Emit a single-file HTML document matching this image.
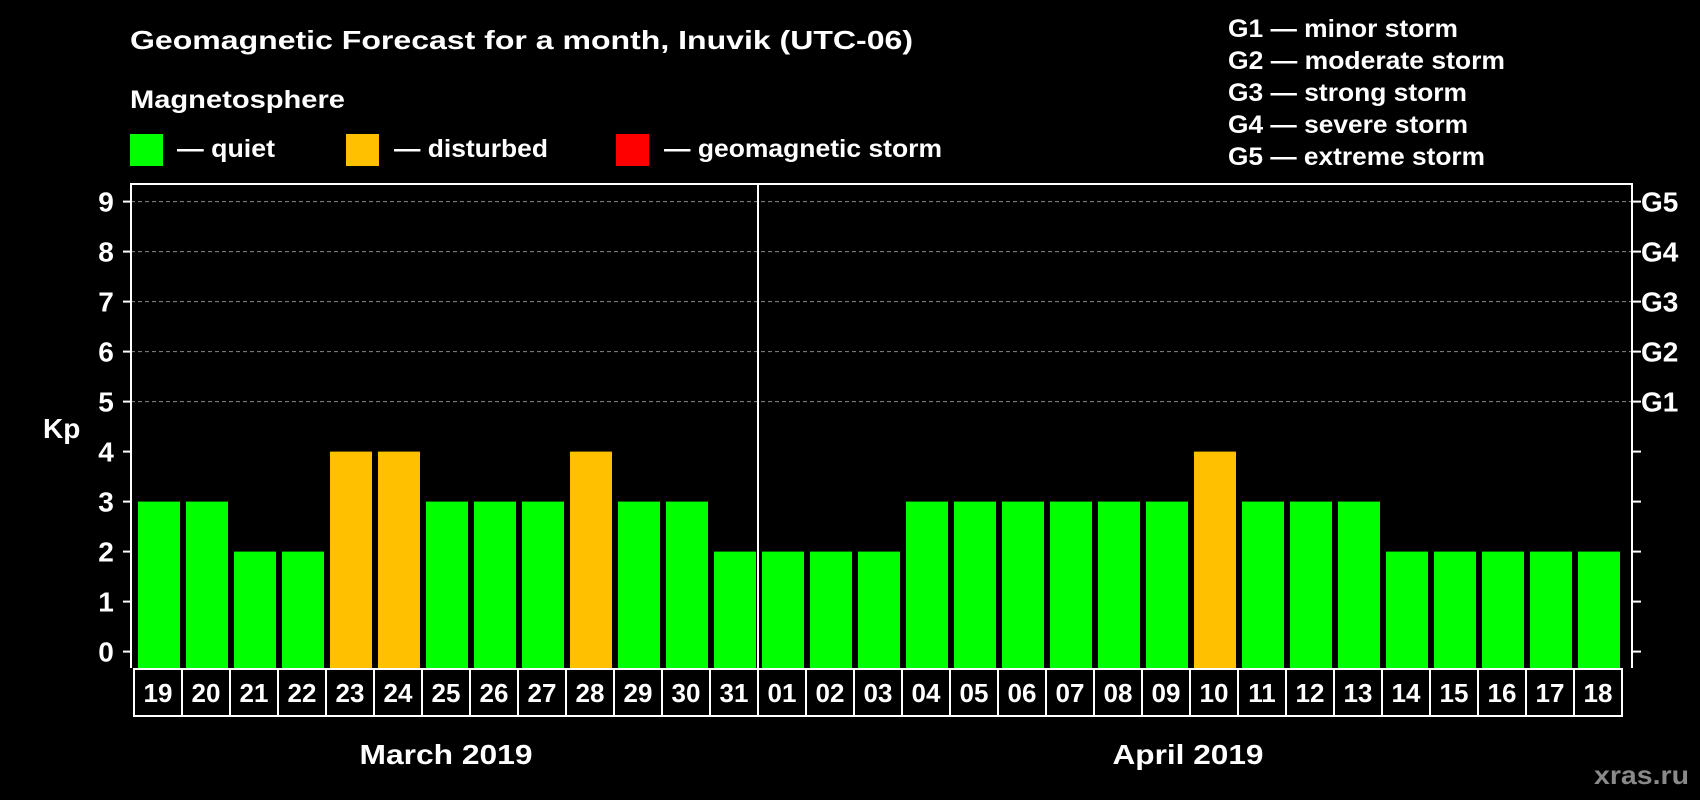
<!DOCTYPE html>
<html><head><meta charset="utf-8">
<style>
html,body{margin:0;padding:0;background:#000;}
svg{display:block;}
text{font-family:"Liberation Sans",Arial,sans-serif;font-weight:bold;fill:#fff;}
</style></head>
<body>
<svg id="chart" width="1700" height="800" viewBox="0 0 1700 800" xmlns="http://www.w3.org/2000/svg">
<rect x="0" y="0" width="1700" height="800" fill="#000"/>
<text x="130" y="49" font-size="26" textLength="783" lengthAdjust="spacingAndGlyphs">Geomagnetic Forecast for a month, Inuvik (UTC-06)</text>
<text x="130" y="108" font-size="25" textLength="215" lengthAdjust="spacingAndGlyphs">Magnetosphere</text>
<g>
<rect x="130" y="134" width="33" height="32" fill="#00ff00"/>
<text x="177" y="157" font-size="25" textLength="98" lengthAdjust="spacingAndGlyphs">— quiet</text>
</g>
<g>
<rect x="346" y="134" width="33" height="32" fill="#ffc000"/>
<text x="394" y="157" font-size="25" textLength="154" lengthAdjust="spacingAndGlyphs">— disturbed</text>
</g>
<g>
<rect x="616" y="134" width="33" height="32" fill="#ff0000"/>
<text x="664" y="157" font-size="25" textLength="278" lengthAdjust="spacingAndGlyphs">— geomagnetic storm</text>
</g>
<g>
<text x="1228" y="37" font-size="25" textLength="230" lengthAdjust="spacingAndGlyphs">G1 — minor storm</text>
<text x="1228" y="69" font-size="25" textLength="277" lengthAdjust="spacingAndGlyphs">G2 — moderate storm</text>
<text x="1228" y="101" font-size="25" textLength="239" lengthAdjust="spacingAndGlyphs">G3 — strong storm</text>
<text x="1228" y="133" font-size="25" textLength="240" lengthAdjust="spacingAndGlyphs">G4 — severe storm</text>
<text x="1228" y="165" font-size="25" textLength="257" lengthAdjust="spacingAndGlyphs">G5 — extreme storm</text>
</g>
<text x="43" y="438" font-size="28">Kp</text>
<g id="grid"></g>
<g id="bars"></g>
<g id="axes"></g>
<text x="446" y="764" font-size="28" text-anchor="middle" textLength="173" lengthAdjust="spacingAndGlyphs">March 2019</text>
<text x="1188" y="764" font-size="28" text-anchor="middle" textLength="151" lengthAdjust="spacingAndGlyphs">April 2019</text>
<text x="1594" y="784" font-size="26" textLength="95" lengthAdjust="spacingAndGlyphs" style="fill:#8a8a8a">xras.ru</text>
</svg>
<script>
const days = ["19","20","21","22","23","24","25","26","27","28","29","30","31","01","02","03","04","05","06","07","08","09","10","11","12","13","14","15","16","17","18"];
const kpValues = [3,3,2,2,4,4,3,3,3,4,3,3,2,2,2,2,3,3,3,3,3,3,4,3,3,3,2,2,2,2,2];
const yTicks = [0,1,2,3,4,5,6,7,8,9];
const gLabels = ["","","","","","G1","G2","G3","G4","G5"];
const monthSplitIndex = 13;

const NS = "http://www.w3.org/2000/svg";
const L = 131, R = 1632, T = 184, B = 668;
const band = 48, x0 = 134, barOff = 4, barW = 42;
const y = v => 651.6 - v * 50;
const x = i => x0 + i * band;
function mk(tag, attrs, parent){const e=document.createElementNS(NS,tag);for(const k in attrs)e.setAttribute(k,attrs[k]);parent.appendChild(e);return e;}
const grid=document.getElementById('grid'), bars=document.getElementById('bars'), axes=document.getElementById('axes');

yTicks.forEach(v=>{
  if(v>=5){
    const g=mk('line',{x1:L,x2:R,y1:y(v),y2:y(v),stroke:'#888','stroke-width':1,'stroke-dasharray':'4,3'},grid);
    
    
  }
  const t=mk('line',{x1:L-8,x2:L,y1:y(v),y2:y(v),stroke:'#fff','stroke-width':2},axes);
  
  
  const t2=mk('line',{x1:R,x2:R+9,y1:y(v),y2:y(v),stroke:'#fff','stroke-width':2},axes);
  
  
  const lb=mk('text',{x:106,y:y(v)+10,'font-size':28,'text-anchor':'middle'},axes);
  lb.textContent=String(v);
  
  
  if(gLabels[v]){
    const gl=mk('text',{x:1641,y:y(v)+10,'font-size':28},axes);
    gl.textContent=gLabels[v];
    
    
  }
});

kpValues.forEach((v,i)=>{
  const col = v>=5 ? '#ff0000' : (v>=4 ? '#ffc000' : '#00ff00');
  const b=mk('rect',{x:x(i)+barOff,y:y(v),width:barW,height:B-y(v),fill:col},bars);
  
  
  const c=mk('rect',{x:x(i),y:B+1,width:band,height:47,fill:'none',stroke:'#fff','stroke-width':2},axes);
  
  
  const tx=mk('text',{x:x(i)+band/2,y:B+34,'font-size':26,'text-anchor':'middle'},axes);
  tx.textContent=days[i];
  
  
});

const fr=mk('path',{d:`M${L},${B} L${L},${T} L${R},${T} L${R},${B}`,fill:'none',stroke:'#fff','stroke-width':2},axes);


const dv=mk('line',{x1:x(monthSplitIndex),x2:x(monthSplitIndex),y1:T,y2:B+48,stroke:'#fff','stroke-width':2},axes);


</script>
</body></html>
